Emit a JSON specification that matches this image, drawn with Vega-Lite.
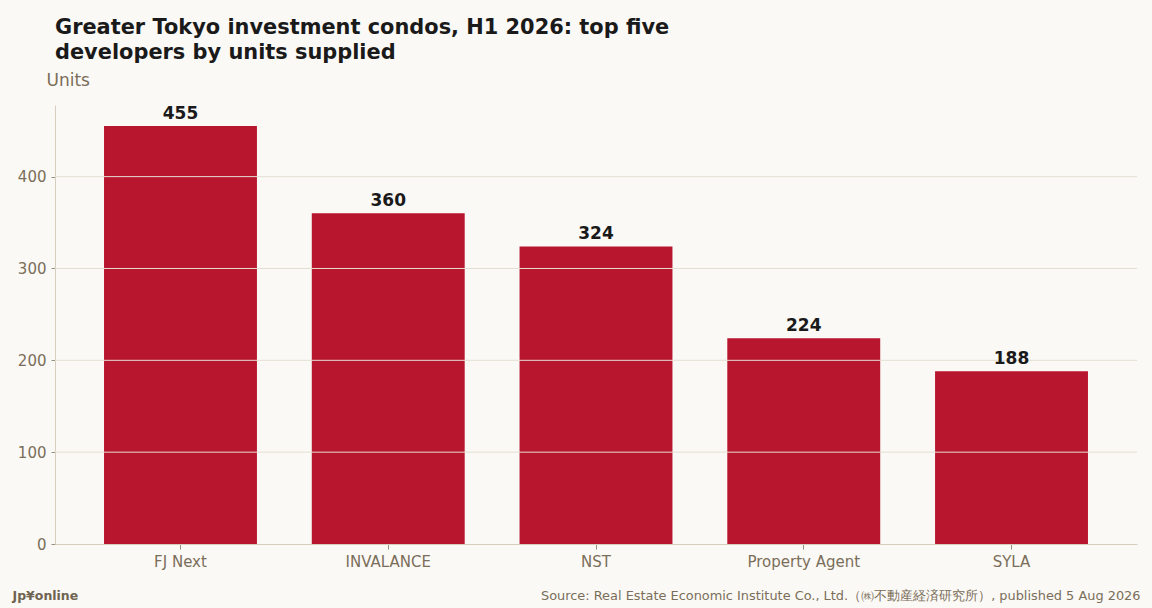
{
  "$schema": "https://vega.github.io/schema/vega-lite/v6.json",
  "width": 1082,
  "height": 439,
  "autosize": {"type": "none"},
  "padding": {"left": 55, "top": 105, "right": 15, "bottom": 64},
  "background": "#faf9f5",
  "title": {
    "text": ["Greater Tokyo investment condos, H1 2026: top five", "developers by units supplied"],
    "anchor": "start",
    "frame": "group",
    "font": "DejaVu Sans",
    "fontSize": 20.9,
    "fontWeight": "bold",
    "color": "#1a1a1a",
    "lineHeight": 25,
    "offset": 8
  },
  "datasets": {
    "developers": [
      {"developer": "FJ Next", "units": 455},
      {"developer": "INVALANCE", "units": 360},
      {"developer": "NST", "units": 324},
      {"developer": "Property Agent", "units": 224},
      {"developer": "SYLA", "units": 188}
    ],
    "gridlines": [
      {"units": 100},
      {"units": 200},
      {"units": 300},
      {"units": 400}
    ]
  },
  "config": {
    "view": {"stroke": null},
    "font": "DejaVu Sans",
    "axis": {
      "labelFont": "DejaVu Sans",
      "titleFont": "DejaVu Sans",
      "labelColor": "#7a6e5a",
      "titleColor": "#7a6e5a",
      "labelFontSize": 15,
      "domainColor": "#d6cfbf",
      "tickColor": "#9a9080"
    }
  },
  "layer": [
    {
      "data": {"name": "developers"},
      "mark": {"type": "bar", "color": "#b8152e"},
      "encoding": {
        "x": {
          "field": "developer",
          "type": "nominal",
          "sort": null,
          "scale": {"paddingInner": 0.264, "paddingOuter": 0.236},
          "axis": {
            "labelAngle": 0,
            "labelPadding": 5,
            "tickSize": 5,
            "title": "Source: Real Estate Economic Institute Co., Ltd.（㈱不動産経済研究所）, published 5 Aug 2026",
            "titleFontSize": 12.9,
            "titleFontWeight": "normal",
            "titleAnchor": "end",
            "titleAlign": "right",
            "titleBaseline": "alphabetic",
            "titleX": 1085,
            "titleY": 55
          }
        },
        "y": {
          "field": "units",
          "type": "quantitative",
          "scale": {"domain": [0, 478], "nice": false},
          "axis": {
            "values": [0, 100, 200, 300, 400],
            "tickSize": 4,
            "labelPadding": 5,
            "grid": false,
            "domain": true,
            "title": "Units",
            "titleAngle": 0,
            "titleFontSize": 17,
            "titleFontWeight": "normal",
            "titleAlign": "left",
            "titleAnchor": "start",
            "titleBaseline": "alphabetic",
            "titleX": -9,
            "titleY": -20
          }
        }
      }
    },
    {
      "data": {"name": "gridlines"},
      "mark": {"type": "rule", "color": "#e4dfd4", "strokeWidth": 1},
      "encoding": {
        "y": {"field": "units", "type": "quantitative"}
      }
    },
    {
      "data": {"name": "developers"},
      "mark": {"type": "text", "dy": -12, "fontSize": 17, "fontWeight": "bold", "color": "#1a1a1a", "font": "DejaVu Sans"},
      "encoding": {
        "x": {
          "field": "developer",
          "type": "nominal",
          "sort": null,
          "axis": {
            "orient": "bottom",
            "labels": false,
            "ticks": false,
            "domain": false,
            "grid": false,
            "title": "Jp¥online",
            "titleFontSize": 12.5,
            "titleFontWeight": "bold",
            "titleColor": "#6e6450",
            "titleAnchor": "start",
            "titleAlign": "left",
            "titleBaseline": "alphabetic",
            "titleX": -43,
            "titleY": 55
          }
        },
        "y": {"field": "units", "type": "quantitative"},
        "text": {"field": "units", "type": "quantitative"}
      }
    }
  ],
  "resolve": {"axis": {"x": "independent"}}
}
